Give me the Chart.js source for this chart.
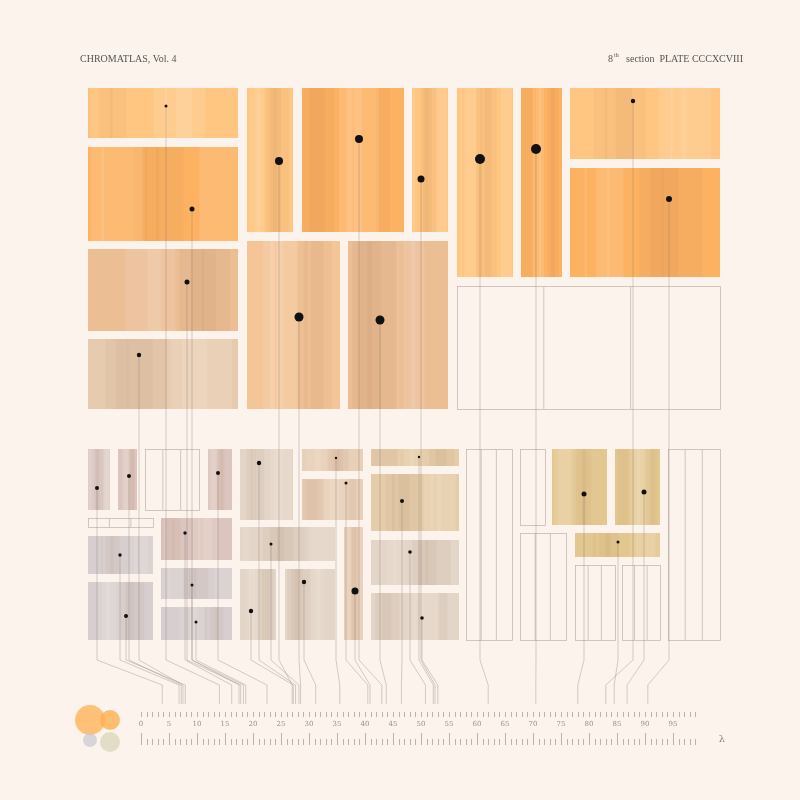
<!DOCTYPE html>
<html><head><meta charset="utf-8">
<script src="https://cdn.jsdelivr.net/npm/chart.js@4"></script>
<style>html,body{margin:0;padding:0;background:#FBF3EC}canvas{display:block}</style>
</head><body>
<canvas id="c" width="800" height="800"></canvas>
<script>
// Rectangles [x0,y0,x1,y1,fillIndex] (fillIndex -1 = outline)
const rectsTop = [
 [88,88,238,138,0],[88,147,238,241,1],[88,249,238,331,2],[88,339,238,409,3],
 [247,88,293,232,0],[302,88,404,232,1],[412,88,448,232,0],[247,241,340,409,4],[348,241,448,409,2],
 [457,88,513,277,0],[521,88,562,277,1],[570,88,720,159,0],[570,168,720,277,1],[457,286,720,409,-1]
];
const rectsBottom = [
 [88,449,110,510,5],[118,449,137,510,6],[145,449,199,510,-1],[208,449,232,510,6],[88,518,153,527,-1],
 [88,536,153,574,7],[88,582,153,640,7],[161,518,232,560,6],[161,568,232,599,7],[161,607,232,640,7],
 [240,449,293,520,8],[302,449,363,471,9],[302,479,363,520,9],[240,527,335,561,8],[240,569,276,640,8],
 [285,569,335,640,8],[344,527,363,640,9],[371,449,459,466,10],[371,474,459,531,10],[371,540,459,585,8],[371,593,459,640,8],
 [466,449,512,640,-1],[520,449,545,525,-1],[520,533,566,640,-1],[552,449,607,525,11],[615,449,660,525,11],
 [575,533,660,557,11],[575,565,615,640,-1],[622,565,660,640,-1],[668,449,720,640,-1]
];
const palette = ['#FFC682','#FDB262','#EBBE94','#E7CBB0','#F3C597','#DDCDC8','#DCC5BE','#D7CFCF','#E3D5C7','#E8CFB8','#E5CDAA','#E3C790'];
// Points: x, y, radius, leader target on λ scale
const ptX = [166,192,187,139,279,359,421,299,380,480,536,633,669, 97,129,218,120,185,126,192,196,259,336,346,271,304,251,355,419,402,410,422,584,644,618];
const ptY = [106,209,282,355,161,139,179,317,320,159,149,101,199, 488,476,473,555,533,616,585,622,463,458,483,544,582,611,591,457,501,552,618,494,492,542];
const ptR = [1.5,2.5,2.5,2.2,4,4,3.5,4.5,4.5,5,5,2.2,3, 2,2,2,1.7,1.7,2,1.5,1.5,2.2,1.2,1.5,1.5,2.2,2.2,3.5,1.2,2,1.8,1.8,2.5,2.5,1.5];
const ptLam = [14,17.5,17.8,7.5,27,43,52.5,28.5,43.8,62,70.5,83,90.5, 3.8,7.2,22.5,6.8,16.2,7.9,18.3,18.7,27.6,35.5,40.5,28.2,31.2,27.2,40.9,52.2,46.5,50.8,53,78,86.8,84.5];
const lamTicks = [0,5,10,15,20,25,30,35,40,45,50,55,60,65,70,75,80,85,90,95];
const lamX = v => 141 + 5.6*v;

function stripes(ctx, xs, col, i){
  ctx.globalAlpha = 1;
  ctx.fillStyle = col; ctx.fillRect(xs.x0, xs.y0, xs.x1-xs.x0, xs.y1-xs.y0);
  const w = xs.x1-xs.x0;
  for(let k=0;k<6;k++){
    const f=((i*37+k*53)%97)/97, fw=((i*11+k*29)%23)/23;
    ctx.fillStyle = k%2? 'rgba(255,250,240,0.12)':'rgba(150,100,70,0.06)';
    ctx.fillRect(xs.x0+f*w*0.8, xs.y0, Math.max(2,fw*w*0.35), xs.y1-xs.y0);
  }
}
const deco = {
  id:'deco',
  beforeDatasetsDraw(chart){
    const ctx=chart.ctx, sx=chart.scales.x, sy=chart.scales.y;
    ctx.save();
    ctx.globalAlpha=1; ctx.globalCompositeOperation='source-over';
    const all = rectsTop.concat(rectsBottom);
    all.forEach((r,i)=>{
      const b={x0:sx.getPixelForValue(r[0]),y0:sy.getPixelForValue(r[1]),x1:sx.getPixelForValue(r[2]),y1:sy.getPixelForValue(r[3])};
      if(r[4]<0){ ctx.strokeStyle='#C4BBB5'; ctx.lineWidth=0.8; ctx.strokeRect(b.x0+.5,b.y0+.5,b.x1-b.x0,b.y1-b.y0);
        ctx.beginPath(); const w=b.x1-b.x0; [0.33,0.66].forEach(f=>{ if(w>30){ctx.moveTo(b.x0+w*f,b.y0);ctx.lineTo(b.x0+w*f,b.y1);} }); ctx.stroke(); }
      else stripes(ctx,b,palette[r[4]],i);
    });
    ctx.strokeStyle='rgba(120,110,105,0.45)'; ctx.lineWidth=0.7;
    ptX.forEach((x,i)=>{
      const px=sx.getPixelForValue(x), py=sy.getPixelForValue(ptY[i]);
      const tx=sx.getPixelForValue(lamX(ptLam[i]));
      ctx.beginPath(); ctx.moveTo(px,py); ctx.lineTo(px,sy.getPixelForValue(660));
      ctx.lineTo(tx,sy.getPixelForValue(685)); ctx.lineTo(tx,sy.getPixelForValue(704)); ctx.stroke();
    });
    ctx.strokeStyle='#AAA29C'; ctx.lineWidth=0.8; ctx.beginPath();
    for(let v=0; v<=99; v+=1){ const x=Math.round(sx.getPixelForValue(lamX(v)))+.5;
      ctx.moveTo(x,712); ctx.lineTo(x,717);
      const L = v%5===0?12:6; ctx.moveTo(x,745-L); ctx.lineTo(x,745);
    } ctx.stroke();
    ctx.fillStyle='#9A918B'; ctx.font='7px "DejaVu Serif"'; ctx.textAlign='center';
    lamTicks.forEach(v=>ctx.fillText(String(v), sx.getPixelForValue(lamX(v)), 726));
    ctx.font='10px "DejaVu Serif"'; ctx.fillStyle='#888'; ctx.fillText('λ',722,742);
    [[90,720,15,'rgba(255,180,90,0.8)'],[110,720,10,'rgba(255,175,80,0.8)'],[90,740,7,'rgba(200,200,210,0.7)'],[110,742,10,'rgba(220,215,190,0.8)']].forEach(c=>{
      ctx.fillStyle=c[3]; ctx.beginPath(); ctx.arc(c[0],c[1],c[2],0,Math.PI*2); ctx.fill(); });
    ctx.fillStyle='#555'; ctx.font='10px "Liberation Serif"'; ctx.textAlign='left';
    ctx.fillText('CHROMATLAS, Vol. 4',80,62);
    ctx.textAlign='right'; ctx.fillText('section  PLATE CCCXCVIII',743,62);
    ctx.textAlign='left'; ctx.fillText('8',608,62);
    ctx.font='6px "Liberation Serif"'; ctx.fillText('th',614,57);
    ctx.restore();
  }
};
new Chart(document.getElementById('c'),{
  type:'scatter',
  data:{datasets:[{data:ptX.map((x,i)=>({x,y:ptY[i]})),pointRadius:ptR,backgroundColor:'#111',borderWidth:0}]},
  options:{responsive:false,animation:false,layout:{padding:0,autoPadding:false},
    plugins:{legend:{display:false},tooltip:{enabled:false}},
    scales:{x:{type:'linear',min:0,max:800,display:false},y:{type:'linear',min:0,max:800,reverse:true,display:false}}},
  plugins:[deco]
});
</script></body></html>
